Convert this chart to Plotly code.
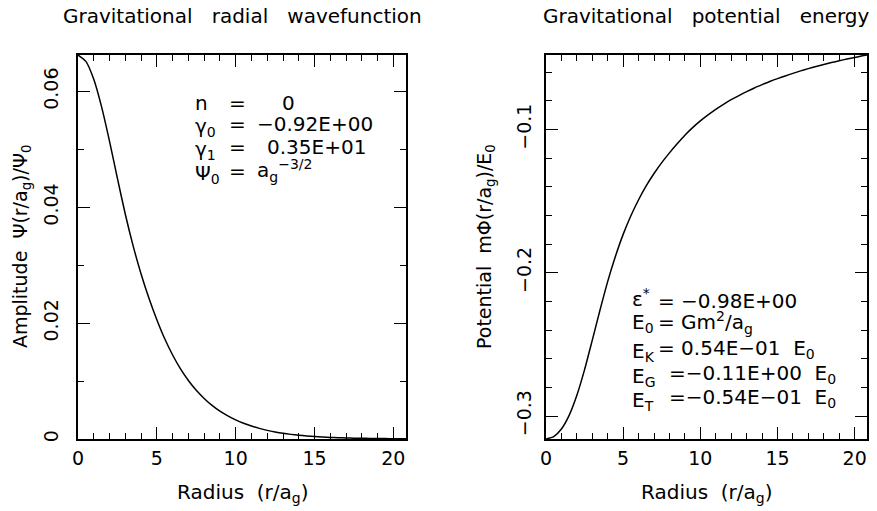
import plotly.graph_objects as go

# ---------------- data ----------------
r_psi = [0, 0.5, 1, 1.5, 2, 2.5, 3, 3.5, 4, 4.5, 5, 5.5, 6, 6.5, 7, 7.5, 8,
         8.5, 9, 9.5, 10, 10.5, 11, 11.5, 12, 12.5, 13, 13.5, 14, 14.5, 15,
         15.5, 16, 16.5, 17, 17.5, 18, 18.5, 19, 19.5, 20, 20.5, 20.8]
psi = [0.0663, 0.0652, 0.0621, 0.0573, 0.0514, 0.0450, 0.0388, 0.0333, 0.0285,
       0.0243, 0.0206, 0.0173, 0.0145, 0.0121, 0.0101, 0.0084, 0.0070,
       0.0058, 0.0048, 0.0040, 0.0033, 0.00272, 0.00224, 0.00183, 0.00149,
       0.00121, 0.00098, 0.0008, 0.00065, 0.00053, 0.00043, 0.00035, 0.00028,
       0.00023, 0.00019, 0.00015, 0.00012, 0.0001, 0.00008, 0.000066,
       0.000054, 0.000044, 0.00004]

r_phi = [0, 0.5, 1, 1.5, 2, 2.5, 3, 3.5, 4, 4.5, 5, 5.5, 6, 6.5, 7, 7.5, 8,
         8.5, 9, 9.5, 10, 10.5, 11, 11.5, 12, 12.5, 13, 13.5, 14, 14.5, 15,
         15.5, 16, 16.5, 17, 17.5, 18, 18.5, 19, 19.5, 20, 20.5, 20.8]
phi = [-0.3160, -0.3143, -0.3090, -0.2995, -0.2855, -0.2676, -0.2470, -0.2260,
       -0.2060, -0.1885, -0.1732, -0.1602, -0.1490, -0.1392, -0.1307, -0.1231,
       -0.1163, -0.1100, -0.1040, -0.0987, -0.0940, -0.0898, -0.0859, -0.0824,
       -0.0792, -0.0763, -0.0736, -0.0710, -0.0687, -0.0665, -0.0645, -0.0626,
       -0.0608, -0.0591, -0.0575, -0.0560, -0.0546, -0.0533, -0.0520, -0.0508,
       -0.0497, -0.0486, -0.0480]

x_ticks = [0, 5, 10, 15, 20]
y1_ticks = [0, 0.02, 0.04, 0.06]
y1_labels = ["0", "0.02", "0.04", "0.06"]
y2_ticks = [-0.3, -0.2, -0.1]
y2_labels = ["\u22120.3", "\u22120.2", "\u22120.1"]

# the page body adds an 8px offset; the figure is sized/positioned to compensate
OFF = 8
W, H = 877 - 2 * OFF, 511 - OFF
FONT = "DejaVu Sans"


def px(x):
    return (x - OFF) / W


def py(y):
    return 1 - (y - OFF) / H


fig = go.Figure()
fig.add_trace(go.Scatter(x=r_psi, y=psi, mode="lines",
                         line=dict(color="black", width=1.5, shape="spline", smoothing=0.6),
                         xaxis="x", yaxis="y", showlegend=False, hoverinfo="skip"))
fig.add_trace(go.Scatter(x=r_phi, y=phi, mode="lines",
                         line=dict(color="black", width=1.5, shape="spline", smoothing=0.6),
                         xaxis="x2", yaxis="y2", showlegend=False, hoverinfo="skip"))

axis_common = dict(showline=True, linecolor="black", linewidth=1.5, mirror="ticks",
                   ticks="inside", ticklen=12, tickwidth=1.2, tickcolor="black",
                   showgrid=False, zeroline=False, automargin=False,
                   tickfont=dict(family=FONT, size=19, color="black"))

minor_x = dict(dtick=1, tick0=0, ticks="inside", ticklen=6, tickcolor="black", tickwidth=1.2)

fig.update_layout(
    width=W, height=H,
    margin=dict(l=0, r=0, t=0, b=0, autoexpand=False),
    paper_bgcolor="white", plot_bgcolor="white",
    xaxis=dict(domain=[px(78), px(406)], range=[0, 20.8], anchor="y",
               tickvals=x_ticks, ticktext=[str(v) for v in x_ticks],
               minor=minor_x, ticklabelstandoff=1, **axis_common),
    yaxis=dict(domain=[py(439), py(55)], range=[0, 0.0663], anchor="x",
               tickvals=y1_ticks, ticktext=y1_labels, tickangle=-90,
               minor=dict(dtick=0.01, tick0=0, ticks="inside", ticklen=6, tickcolor="black", tickwidth=1.2),
               ticklabelstandoff=11, **axis_common),
    xaxis2=dict(domain=[px(546), px(867)], range=[0, 20.8], anchor="y2",
                tickvals=x_ticks, ticktext=[str(v) for v in x_ticks],
                minor=minor_x, ticklabelstandoff=1, **axis_common),
    yaxis2=dict(domain=[py(439), py(55)], range=[-0.316, -0.048], anchor="x2",
                tickvals=y2_ticks, ticktext=y2_labels, tickangle=-90,
                minor=dict(dtick=0.02, tick0=0, ticks="inside", ticklen=6, tickcolor="black", tickwidth=1.2),
                ticklabelstandoff=6, **axis_common),
)

ann = []


def text(x, y, s, size=19, xanchor="left", yanchor="middle", angle=0):
    ann.append(dict(x=px(x), y=py(y), xref="paper", yref="paper", text=s, showarrow=False,
                    xanchor=xanchor, yanchor=yanchor, textangle=angle,
                    font=dict(family=FONT, size=size, color="black")))


# titles
text(242, 16, "Gravitational   radial   wavefunction", 20, xanchor="center")
text(706, 16, "Gravitational   potential   energy", 20, xanchor="center")
# axis titles
text(243, 493, "Radius  (r/a<sub>g</sub>)", 20, xanchor="center")
text(707, 493, "Radius  (r/a<sub>g</sub>)", 20, xanchor="center")
text(22, 247, "Amplitude  \u03a8(r/a<sub>g</sub>)/\u03a8<sub>0</sub>", 19, xanchor="center", angle=-90)
text(486, 247, "Potential  m\u03a6(r/a<sub>g</sub>)/E<sub>0</sub>", 19, xanchor="center", angle=-90)

# left annotations
AS = 20
text(193, 103, "n", AS)
text(227, 103, "=", AS)
text(280, 103, "0", AS)
text(193, 127, "\u03b3<sub>0</sub>", AS)
text(227, 124, "=", AS)
text(255, 124, "\u22120.92E+00", AS)
text(193, 150, "\u03b3<sub>1</sub>", AS)
text(227, 147, "=", AS)
text(265, 147, "0.35E+01", AS)
text(193, 174, "\u03a8<sub>0</sub>", AS)
text(227, 171, "=", AS)
text(255, 170, "a<sub>g</sub><sup>\u22123/2</sup>", AS)

# right annotations
text(630, 298, "\u03b5<sup>*</sup>", AS)
text(656, 301, "= \u22120.98E+00", AS)
text(630, 323, "E<sub>0</sub>", AS)
text(656, 322, "= Gm<sup>2</sup>/a<sub>g</sub>", AS)
text(630, 352, "E<sub>K</sub>", AS)
text(656, 349, "= 0.54E\u221201  E<sub>0</sub>", AS)
text(630, 377, "E<sub>G</sub>", AS)
text(667, 374, "=\u22120.11E+00  E<sub>0</sub>", AS)
text(630, 401, "E<sub>T</sub>", AS)
text(667, 398, "=\u22120.54E\u221201  E<sub>0</sub>", AS)

fig.update_layout(annotations=ann)
fig.write_html("out.html")
